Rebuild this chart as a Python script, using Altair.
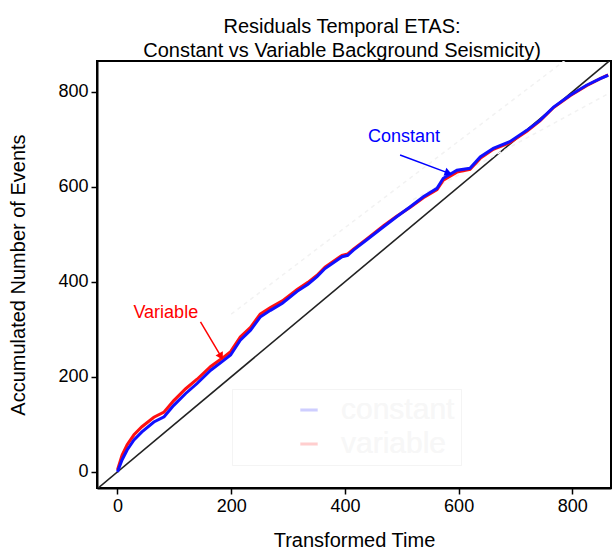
import altair as alt
import pandas as pd

# ---- data ----
const_x = [0, 8, 17, 29, 43, 64, 82, 99, 120, 140, 164, 184, 199, 216, 234, 251, 269, 290, 316, 335,
           351, 365, 395, 405, 415, 438, 468, 491, 515, 538, 562, 573, 597, 620, 638, 661, 690, 720,
           743, 767, 796, 825, 849, 863]
const_y = [0, 25, 46, 67, 84, 105, 116, 140, 165, 186, 214, 232, 246, 277, 298, 326, 340, 355, 380, 395,
           411, 428, 453, 456, 467, 488, 516, 537, 558, 579, 597, 618, 635, 639, 663, 681, 695, 719,
           740, 768, 793, 814, 828, 835]
var_x = const_x
var_y = [4, 35, 57, 78, 95, 115, 126, 150, 175, 195, 222, 239, 253, 284, 304, 332, 346, 360, 384, 399,
         414, 431, 456, 459, 469, 490, 518, 538, 557, 577, 594, 614, 631, 637, 660, 679, 693, 717,
         739, 767, 792, 813, 828, 836]

x_domain = [-36, 868]
y_domain = [-34, 865]
ticks = [0, 200, 400, 600, 800]

upper_x = [200, 790]
upper_y = [332, 869]
lower_x = [520, 866]
lower_y = [573, 798]

ann_text = ["Variable", "Constant"]
ann_x = [85, 504]
ann_y = [334, 706]
arrow_v_x = [146, 181]
arrow_v_y = [316, 245]
arrow_c_x = [497, 580]
arrow_c_y = [667, 630]

series = (["constant"] * len(const_x)) + (["variable"] * len(var_x))
df = pd.DataFrame({
    "x": const_x + var_x,
    "y": const_y + var_y,
    "series": series,
})

FONT = "Liberation Sans"

xs = alt.Scale(domain=x_domain, nice=False, zero=False)
ys = alt.Scale(domain=y_domain, nice=False, zero=False)
xax = alt.Axis(values=ticks, title="Transformed Time", grid=False)
yax = alt.Axis(values=ticks, title="Accumulated Number of Events", grid=False)

color = alt.Color(
    "series:N",
    scale=alt.Scale(domain=["constant", "variable"], range=["#1010ff", "#ff1010"]),
    legend=alt.Legend(
        title=None, orient="none", legendX=135, legendY=328,
        labelFontSize=30, labelColor="#f7f7f7", symbolType="stroke",
        symbolStrokeWidth=3, symbolOpacity=0.1, symbolSize=300,
        strokeColor="#f4f4f4", padding=6, symbolOffset=56, labelOffset=17,
        rowPadding=4, labelFont=FONT,
    ),
)

diag = alt.Chart(pd.DataFrame({"x": x_domain, "y": x_domain})).mark_line(
    color="#222222", strokeWidth=1.6, clip=True
).encode(x=alt.X("x:Q", scale=xs, axis=xax), y=alt.Y("y:Q", scale=ys, axis=yax))

upper = alt.Chart(pd.DataFrame({"x": upper_x, "y": upper_y})).mark_line(
    color="#f2f2f2", strokeWidth=1.5, strokeDash=[4, 4], clip=True
).encode(x=alt.X("x:Q", scale=xs), y=alt.Y("y:Q", scale=ys))
lower = alt.Chart(pd.DataFrame({"x": lower_x, "y": lower_y})).mark_line(
    color="#f2f2f2", strokeWidth=1.5, strokeDash=[4, 4], clip=True
).encode(x=alt.X("x:Q", scale=xs), y=alt.Y("y:Q", scale=ys))

red = alt.Chart(df).transform_filter(alt.datum.series == "variable").mark_line(
    strokeWidth=3, clip=True
).encode(x=alt.X("x:Q", scale=xs), y=alt.Y("y:Q", scale=ys), color=color)
blue = alt.Chart(df).transform_filter(alt.datum.series == "constant").mark_line(
    strokeWidth=3, clip=True
).encode(x=alt.X("x:Q", scale=xs), y=alt.Y("y:Q", scale=ys), color=color)

ann_df = pd.DataFrame({"t": ann_text, "x": ann_x, "y": ann_y})
ann = alt.Chart(ann_df).mark_text(fontSize=18, font=FONT, baseline="middle").encode(
    x=alt.X("x:Q", scale=xs), y=alt.Y("y:Q", scale=ys), text="t:N",
    color=alt.Color("t:N", scale=alt.Scale(domain=["Variable", "Constant"], range=["#ff0000", "#0000ff"]), legend=None),
)

av = pd.DataFrame({"x": arrow_v_x, "y": arrow_v_y})
ac = pd.DataFrame({"x": arrow_c_x, "y": arrow_c_y})
shaft_v = alt.Chart(av).mark_line(color="#ff0000", strokeWidth=1.5).encode(
    x=alt.X("x:Q", scale=xs), y=alt.Y("y:Q", scale=ys))
shaft_c = alt.Chart(ac).mark_line(color="#0000ff", strokeWidth=1.5).encode(
    x=alt.X("x:Q", scale=xs), y=alt.Y("y:Q", scale=ys))
head_v = alt.Chart(av.tail(1)).mark_point(shape="triangle", filled=True, size=70, angle=150,
                                           color="#ff0000", opacity=1).encode(
    x=alt.X("x:Q", scale=xs), y=alt.Y("y:Q", scale=ys))
head_c = alt.Chart(ac.tail(1)).mark_point(shape="triangle", filled=True, size=70, angle=110,
                                           color="#0000ff", opacity=1).encode(
    x=alt.X("x:Q", scale=xs), y=alt.Y("y:Q", scale=ys))

chart = alt.layer(
    diag, upper, lower, red, blue, shaft_v, shaft_c, head_v, head_c, ann
).resolve_scale(color="independent").properties(
    width=514, height=427,
    autosize=alt.AutoSizeParams(type="none"),
    padding={"left": 97, "top": 61, "right": 5, "bottom": 65},
    title=alt.Title(
        ["Residuals Temporal ETAS:", "Constant vs Variable Background Seismicity)"],
        fontSize=20, fontWeight="normal", font=FONT, color="#000000",
        anchor="middle", offset=0, lineHeight=24, dx=-12,
    ),
).configure_view(
    stroke="#000000", strokeWidth=2
).configure_axis(
    domainColor="#000000", domainWidth=2, tickColor="#000000", tickWidth=1.5, tickSize=6,
    labelFont=FONT, labelFontSize=18, labelColor="#000000", labelPadding=3,
    titleFont=FONT, titleFontSize=20, titleFontWeight="normal", titleColor="#000000",
).configure_axisX(titlePadding=15).configure_axisY(titlePadding=29)

chart.save("out.html", embed_options={"renderer": "svg", "actions": False})
